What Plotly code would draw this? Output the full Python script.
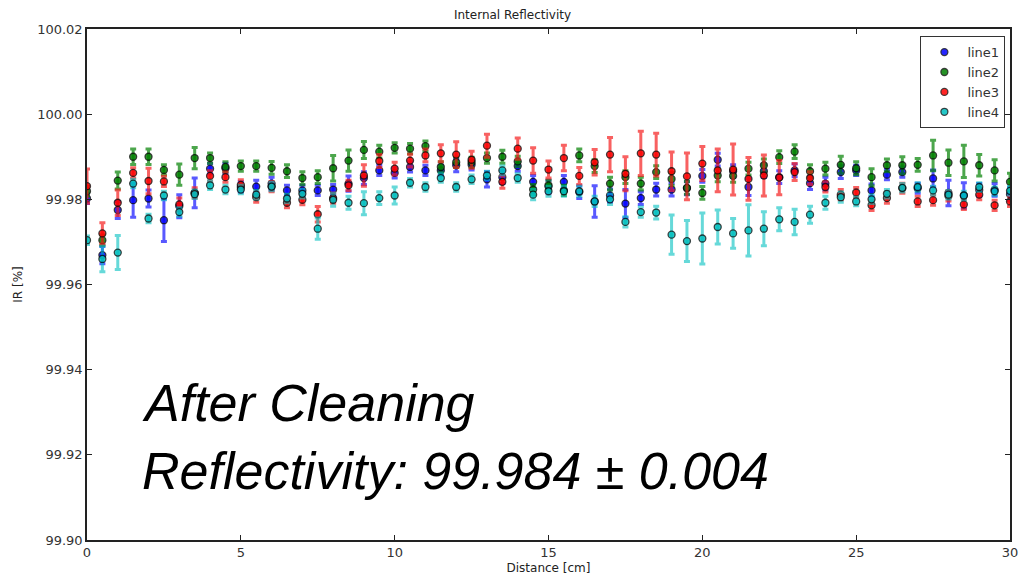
import plotly.graph_objects as go

# Distance along the sample [cm]
distance = [i * 0.5 for i in range(61)]

# Internal reflectivity [%] for the four scan lines
line1 = [99.9802, 99.9669, 99.9775, 99.9798, 99.9802, 99.9751, 99.9784, 99.9815, 99.9872, 99.9873,
         99.9829, 99.9830, 99.9837, 99.9821, 99.9821, 99.9821, 99.9823, 99.9837, 99.9850, 99.9868,
         99.9862, 99.9876, 99.9868, 99.9868, 99.9880, 99.9881, 99.9847, 99.9852, 99.9878, 99.9841,
         99.9830, 99.9841, 99.9817, 99.9795, 99.9809, 99.9790, 99.9803, 99.9823, 99.9823, 99.9826,
         99.9855, 99.9893, 99.9866, 99.9829, 99.9866, 99.9852, 99.9868, 99.9838, 99.9837, 99.9864,
         99.9868, 99.9821, 99.9858, 99.9864, 99.9826, 99.9849, 99.9815, 99.9809, 99.9822, 99.9822,
         99.9812]
line2 = [99.9819, 99.9704, 99.9844, 99.9900, 99.9900, 99.9869, 99.9858, 99.9897, 99.9897, 99.9876,
         99.9878, 99.9878, 99.9874, 99.9866, 99.9850, 99.9852, 99.9873, 99.9891, 99.9916, 99.9912,
         99.9921, 99.9919, 99.9925, 99.9876, 99.9887, 99.9887, 99.9897, 99.9900, 99.9889, 99.9823,
         99.9833, 99.9821, 99.9903, 99.9878, 99.9837, 99.9852, 99.9837, 99.9864, 99.9848, 99.9827,
         99.9815, 99.9856, 99.9855, 99.9872, 99.9880, 99.9899, 99.9912, 99.9866, 99.9872, 99.9881,
         99.9873, 99.9852, 99.9880, 99.9880, 99.9881, 99.9903, 99.9886, 99.9889, 99.9880, 99.9868,
         99.9841]
line3 = [99.9831, 99.9720, 99.9792, 99.9862, 99.9843, 99.9842, 99.9788, 99.9815, 99.9855, 99.9852,
         99.9834, 99.9805, 99.9830, 99.9792, 99.9799, 99.9765, 99.9803, 99.9833, 99.9856, 99.9890,
         99.9872, 99.9891, 99.9903, 99.9908, 99.9905, 99.9893, 99.9926, 99.9841, 99.9919, 99.9891,
         99.9870, 99.9897, 99.9855, 99.9887, 99.9905, 99.9860, 99.9908, 99.9905, 99.9866, 99.9854,
         99.9884, 99.9868, 99.9870, 99.9848, 99.9856, 99.9851, 99.9864, 99.9850, 99.9829, 99.9811,
         99.9816, 99.9786, 99.9803, 99.9826, 99.9795, 99.9798, 99.9808, 99.9788, 99.9811, 99.9786,
         99.9795]
line4 = [99.9704, 99.9660, 99.9675, 99.9837, 99.9755, 99.9809, 99.9770, 99.9812, 99.9833, 99.9823,
         99.9823, 99.9811, 99.9830, 99.9802, 99.9813, 99.9731, 99.9799, 99.9792, 99.9791, 99.9803,
         99.9809, 99.9839, 99.9829, 99.9850, 99.9829, 99.9847, 99.9856, 99.9868, 99.9850, 99.9811,
         99.9819, 99.9819, 99.9819, 99.9795, 99.9800, 99.9747, 99.9770, 99.9769, 99.9717, 99.9702,
         99.9708, 99.9735, 99.9720, 99.9727, 99.9731, 99.9753, 99.9747, 99.9764, 99.9792, 99.9805,
         99.9795, 99.9800, 99.9813, 99.9827, 99.9829, 99.9821, 99.9811, 99.9809, 99.9829, 99.9819,
         99.9820]

# Measurement uncertainties [%]
err1 = [0.0012, 0.0020, 0.0020, 0.0040, 0.0020, 0.0050, 0.0027, 0.0035, 0.0012, 0.0012,
        0.0012, 0.0015, 0.0015, 0.0012, 0.0012, 0.0012, 0.0012, 0.0018, 0.0015, 0.0012,
        0.0012, 0.0012, 0.0012, 0.0012, 0.0015, 0.0012, 0.0018, 0.0015, 0.0012, 0.0015,
        0.0015, 0.0015, 0.0015, 0.0037, 0.0015, 0.0033, 0.0015, 0.0015, 0.0015, 0.0015,
        0.0015, 0.0015, 0.0015, 0.0020, 0.0015, 0.0015, 0.0015, 0.0015, 0.0015, 0.0015,
        0.0012, 0.0015, 0.0012, 0.0012, 0.0012, 0.0020, 0.0030, 0.0030, 0.0015, 0.0015,
        0.0015]
err2 = [0.0012, 0.0012, 0.0020, 0.0018, 0.0018, 0.0012, 0.0025, 0.0025, 0.0012, 0.0012,
        0.0012, 0.0012, 0.0015, 0.0015, 0.0015, 0.0015, 0.0030, 0.0025, 0.0020, 0.0015,
        0.0012, 0.0012, 0.0012, 0.0012, 0.0012, 0.0012, 0.0012, 0.0015, 0.0012, 0.0012,
        0.0012, 0.0012, 0.0015, 0.0015, 0.0015, 0.0015, 0.0015, 0.0015, 0.0015, 0.0015,
        0.0015, 0.0015, 0.0015, 0.0015, 0.0015, 0.0015, 0.0016, 0.0015, 0.0015, 0.0020,
        0.0015, 0.0020, 0.0015, 0.0020, 0.0015, 0.0036, 0.0030, 0.0038, 0.0025, 0.0025,
        0.0020]
err3 = [0.0040, 0.0025, 0.0030, 0.0012, 0.0030, 0.0012, 0.0015, 0.0012, 0.0012, 0.0012,
        0.0012, 0.0012, 0.0012, 0.0012, 0.0012, 0.0018, 0.0012, 0.0012, 0.0025, 0.0015,
        0.0015, 0.0015, 0.0015, 0.0020, 0.0030, 0.0020, 0.0027, 0.0015, 0.0025, 0.0030,
        0.0020, 0.0030, 0.0020, 0.0030, 0.0040, 0.0040, 0.0052, 0.0050, 0.0045, 0.0055,
        0.0040, 0.0050, 0.0060, 0.0050, 0.0048, 0.0040, 0.0020, 0.0015, 0.0012, 0.0012,
        0.0012, 0.0012, 0.0012, 0.0012, 0.0012, 0.0012, 0.0012, 0.0012, 0.0012, 0.0012,
        0.0012]
err4 = [0.0010, 0.0030, 0.0040, 0.0010, 0.0010, 0.0010, 0.0010, 0.0010, 0.0010, 0.0010,
        0.0010, 0.0010, 0.0010, 0.0010, 0.0010, 0.0025, 0.0015, 0.0015, 0.0027, 0.0015,
        0.0020, 0.0010, 0.0010, 0.0010, 0.0010, 0.0010, 0.0010, 0.0010, 0.0010, 0.0012,
        0.0012, 0.0012, 0.0012, 0.0012, 0.0012, 0.0012, 0.0012, 0.0015, 0.0046, 0.0048,
        0.0060, 0.0040, 0.0035, 0.0060, 0.0040, 0.0027, 0.0030, 0.0020, 0.0015, 0.0012,
        0.0010, 0.0010, 0.0010, 0.0010, 0.0010, 0.0010, 0.0010, 0.0010, 0.0010, 0.0010,
        0.0010]

series = [
    ("line1", line1, err1, "rgb(0,0,255)", "rgba(0,0,255,0.65)"),
    ("line2", line2, err2, "rgb(0,128,0)", "rgba(0,128,0,0.7)"),
    ("line3", line3, err3, "rgb(255,0,0)", "rgba(245,30,30,0.7)"),
    ("line4", line4, err4, "rgb(0,191,191)", "rgba(0,191,191,0.6)"),
]

fig = go.Figure()
for name, vals, errs, col, ecol in series:
    fig.add_trace(go.Scatter(
        x=distance, y=vals, name=name, mode="markers",
        marker=dict(size=7, color=col, opacity=0.85,
                    line=dict(color="rgba(0,0,0,0.85)", width=1.3)),
        error_y=dict(type="data", array=errs, visible=True,
                     color=ecol, thickness=3, width=3),
    ))

axis_font = dict(family="DejaVu Sans", size=12, color="#222")
fig.update_layout(
    width=1025, height=580,
    margin=dict(l=87, r=7, t=29, b=38),
    paper_bgcolor="white", plot_bgcolor="white",
    title=dict(text="Internal Reflectivity", x=0.5, xanchor="center",
               y=0.975, yanchor="middle", font=dict(family="DejaVu Sans", size=12, color="#222")),
    showlegend=True,
    legend=dict(x=0.995, y=0.986, xanchor="right", yanchor="top",
                bordercolor="#333", borderwidth=1, bgcolor="white",
                font=dict(family="DejaVu Sans", size=13, color="#333"),
                tracegroupgap=2, itemwidth=36),
    font=axis_font,
)
fig.update_xaxes(range=[0, 30], dtick=5, tick0=0, showgrid=False, zeroline=False,
                 showline=True, linecolor="#222", linewidth=1.5, mirror="allticks",
                 ticks="inside", ticklen=5, tickcolor="#222",
                 title=dict(text="Distance [cm]", standoff=4, font=axis_font),
                 tickfont=dict(family="DejaVu Sans", size=13, color="#333"))
fig.update_yaxes(range=[99.90, 100.02], dtick=0.02, tick0=99.90, tickformat=".2f",
                 showgrid=False, zeroline=False,
                 showline=True, linecolor="#222", linewidth=1.5, mirror="allticks",
                 ticks="inside", ticklen=5, tickcolor="#222",
                 title=dict(text="IR [%]", standoff=12, font=axis_font),
                 tickfont=dict(family="DejaVu Sans", size=13, color="#333"))

big = dict(family="Liberation Sans", size=52, color="black")
fig.add_annotation(text="<i>After Cleaning</i>", xref="paper", yref="paper",
                   x=0.057, y=0.268, xanchor="left", yanchor="middle",
                   showarrow=False, font=big)
fig.add_annotation(text="<i>Reflectivity: 99.984 ± 0.004</i>", xref="paper", yref="paper",
                   x=0.057, y=0.135, xanchor="left", yanchor="middle",
                   showarrow=False, font=big)

fig.write_html("out.html")
